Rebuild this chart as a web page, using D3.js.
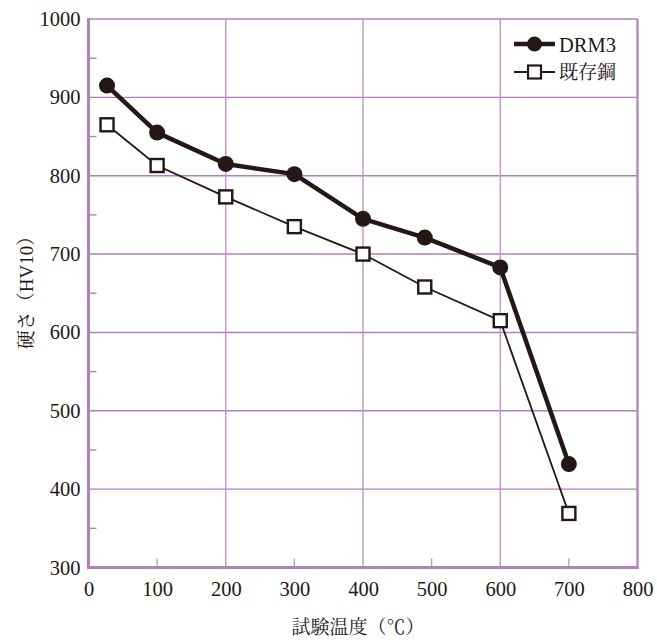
<!DOCTYPE html>
<html>
<head>
<meta charset="utf-8">
<script src="https://cdn.jsdelivr.net/npm/d3@7"></script>
<style>
  body { margin: 0; background: #fff; }
  svg text { font-family: "Liberation Serif", "Times New Roman", Times, "DejaVu Serif", serif; fill: #231815; }
  svg text.jp { font-family: "Liberation Serif", "Times New Roman", "Noto Serif CJK JP", "Noto Sans CJK JP", serif; }
</style>
</head>
<body>
<svg id="chart" width="657" height="640"></svg>
<script>
const temperatures = [27, 100, 200, 300, 400, 490, 600, 700];
const drm3 = [915, 855, 815, 802, 745, 721, 683, 432];
const existing = [865, 813, 773, 735, 700, 658, 615, 369];
const xTicks = [0, 100, 200, 300, 400, 500, 600, 700, 800];
const yTicks = [300, 400, 500, 600, 700, 800, 900, 1000];
const xGrid = [200, 400, 600];
const xMinor = [100, 300, 500, 700];
const yMinor = [350, 450, 550, 650, 750, 850, 950];
const seriesNames = ["DRM3", "既存鋼"];
const xTitle = "試験温度（℃）";
const yTitle = "硬さ（HV10）";

const svg = d3.select("#chart");
const L = 88.5, R = 637.5, T = 19, B = 567.5;
const x = d3.scaleLinear().domain([0, 800]).range([L, R]);
const y = d3.scaleLinear().domain([300, 1000]).range([B, T]);
const purple = "#b47dbd";
const gridColor = "#c596cc";
const ink = "#231815";
const serif = "'Liberation Serif', 'Times New Roman', Times, serif";

// grid
svg.append("g").selectAll("line").data(yTicks.filter(d => d > 300 && d < 1000)).join("line")
  .attr("x1", L).attr("x2", R).attr("y1", d => y(d)).attr("y2", d => y(d))
  .attr("stroke", purple).attr("stroke-width", 1.4);
svg.append("g").selectAll("line").data(xGrid).join("line")
  .attr("x1", d => x(d)).attr("x2", d => x(d)).attr("y1", T).attr("y2", B)
  .attr("stroke", gridColor).attr("stroke-width", 1.4);

// minor ticks
svg.append("g").selectAll("line").data(yMinor).join("line")
  .attr("x1", L).attr("x2", L + 8).attr("y1", d => y(d)).attr("y2", d => y(d))
  .attr("stroke", purple).attr("stroke-width", 1.4);
svg.append("g").selectAll("line").data(xMinor).join("line")
  .attr("x1", d => x(d)).attr("x2", d => x(d)).attr("y1", B).attr("y2", B - 9)
  .attr("stroke", gridColor).attr("stroke-width", 1.4);

// frame
svg.append("line").attr("x1", L).attr("x2", R).attr("y1", T).attr("y2", T).attr("stroke", purple).attr("stroke-width", 1.6);
svg.append("line").attr("x1", R).attr("x2", R).attr("y1", T).attr("y2", B).attr("stroke", purple).attr("stroke-width", 2.2);
svg.append("line").attr("x1", L).attr("x2", L).attr("y1", T - 0.8).attr("y2", B + 1.5).attr("stroke", purple).attr("stroke-width", 3);
svg.append("line").attr("x1", L - 1.5).attr("x2", R + 1.1).attr("y1", B).attr("y2", B).attr("stroke", purple).attr("stroke-width", 3);

// axes labels via d3 axes
const xAxis = svg.append("g").attr("transform", `translate(0,${B})`)
  .attr("font-family", serif)
  .call(d3.axisBottom(x).tickValues(xTicks).tickSize(0).tickPadding(14).tickFormat(d3.format("d")));
xAxis.attr("font-family", serif);
xAxis.select(".domain").remove();
xAxis.selectAll("text").attr("font-size", 20.5).attr("fill", ink).attr("font-family", serif);

const yAxis = svg.append("g").attr("transform", `translate(${L},0)`)
  .call(d3.axisLeft(y).tickValues(yTicks).tickSize(0).tickPadding(8).tickFormat(d3.format("d")));
yAxis.attr("font-family", serif);
yAxis.select(".domain").remove();
yAxis.selectAll("text").attr("font-size", 20.5).attr("fill", ink).attr("font-family", serif);

// titles
svg.append("text").attr("class", "jp").attr("x", 358).attr("y", 634).attr("text-anchor", "middle")
  .attr("font-size", 19).text(xTitle);
svg.append("text").attr("class", "jp").attr("transform", "translate(33,288) rotate(-90)").attr("text-anchor", "middle")
  .attr("font-size", 19).text(yTitle);

// series
const line = d3.line().x(d => x(d[0])).y(d => y(d[1]));
const d1 = temperatures.map((t, i) => [t, drm3[i]]);
const d2 = temperatures.map((t, i) => [t, existing[i]]);

svg.append("path").datum(d2).attr("d", line).attr("fill", "none").attr("stroke", ink).attr("stroke-width", 1.8);
svg.append("path").datum(d1).attr("d", line).attr("fill", "none").attr("stroke", ink).attr("stroke-width", 4.5).attr("stroke-linejoin", "round");

svg.append("g").selectAll("rect").data(d2).join("rect")
  .attr("x", d => x(d[0]) - 6.5).attr("y", d => y(d[1]) - 6.5)
  .attr("width", 13).attr("height", 13)
  .attr("fill", "#fff").attr("stroke", ink).attr("stroke-width", 2.4);
svg.append("g").selectAll("circle").data(d1).join("circle")
  .attr("cx", d => x(d[0])).attr("cy", d => y(d[1])).attr("r", 8)
  .attr("fill", ink);

// legend
const lg = svg.append("g");
lg.append("line").attr("x1", 514).attr("x2", 555).attr("y1", 44).attr("y2", 44).attr("stroke", ink).attr("stroke-width", 4.5);
lg.append("circle").attr("cx", 534.5).attr("cy", 44).attr("r", 7.5).attr("fill", ink);
lg.append("text").attr("x", 559).attr("y", 51.5).attr("font-size", 20.5).attr("font-family", serif).text(seriesNames[0]);
lg.append("line").attr("x1", 514).attr("x2", 555).attr("y1", 72).attr("y2", 72).attr("stroke", ink).attr("stroke-width", 1.8);
lg.append("rect").attr("x", 528).attr("y", 65.5).attr("width", 13).attr("height", 13)
  .attr("fill", "#fff").attr("stroke", ink).attr("stroke-width", 2.2);
lg.append("text").attr("class", "jp").attr("x", 559).attr("y", 79).attr("font-size", 19).text(seriesNames[1]);
</script>
</body>
</html>
